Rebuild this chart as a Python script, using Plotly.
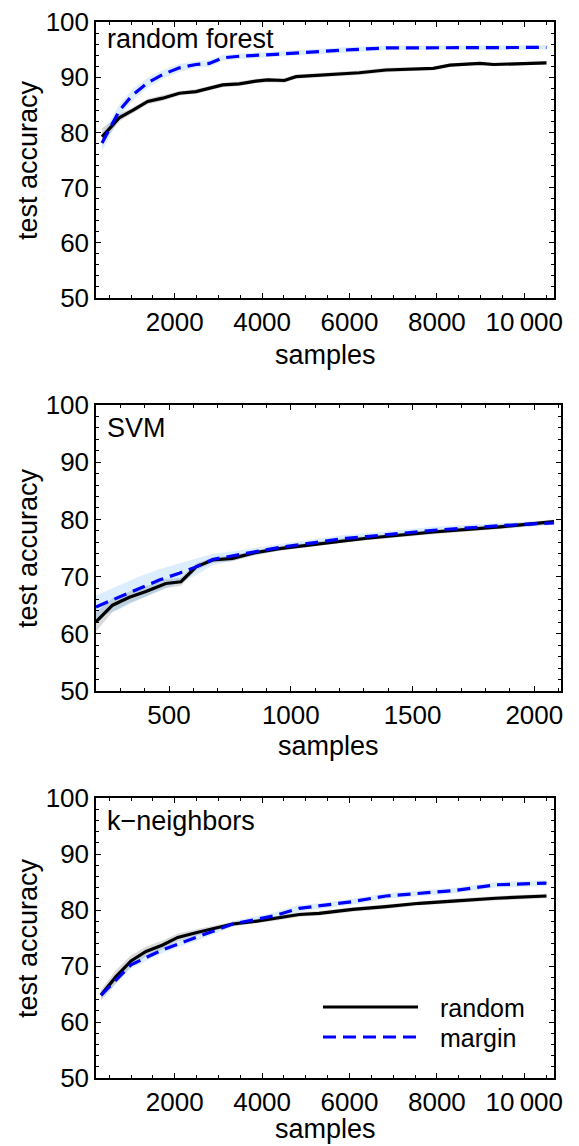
import plotly.graph_objects as go

# ---------------- data ----------------
panel_names = ["random forest", "SVM", "k\u2212neighbors"]
series_names = ["random", "margin"]

# random forest
rf_random_x = [336, 510, 739, 1038, 1382, 1725, 2107, 2487, 2792, 3098, 3479, 3860, 4128, 4508,
               4776, 5310, 5767, 6225, 6835, 7918, 8300, 8986, 9297, 9800, 10508]
rf_random_y = [79.2, 80.7, 82.7, 84.0, 85.6, 86.2, 87.1, 87.4, 88.0, 88.6, 88.8, 89.3, 89.5, 89.4,
               90.1, 90.4, 90.6, 90.8, 91.3, 91.6, 92.2, 92.5, 92.3, 92.4, 92.6]
rf_random_err = [1.6, 1.0, 0.7, 0.5, 0.5, 0.5, 0.4, 0.4, 0.4, 0.4, 0.4, 0.4, 0.4, 0.4,
                 0.4, 0.4, 0.4, 0.4, 0.4, 0.3, 0.3, 0.3, 0.3, 0.3, 0.3]
rf_margin_x = [336, 542, 739, 1038, 1382, 1725, 2107, 2487, 2792, 3098, 3479, 4200, 4930, 6073,
               6835, 7537, 8300, 9297, 10508]
rf_margin_y = [78.1, 81.0, 84.0, 86.8, 89.0, 90.5, 91.7, 92.3, 92.5, 93.5, 93.8, 94.1, 94.5, 95.0,
               95.3, 95.3, 95.4, 95.3, 95.4]
rf_margin_err = [1.5, 1.3, 1.1, 1.0, 0.9, 0.8, 0.7, 0.6, 0.6, 0.5, 0.5, 0.5, 0.5, 0.5,
                 0.4, 0.4, 0.4, 0.4, 0.4]

# SVM
svm_random_x = [200, 268, 337, 405, 487, 549, 611, 679, 761, 844, 953, 1090, 1227, 1312, 1585, 1860, 2081]
svm_random_y = [62.1, 65.0, 66.4, 67.4, 68.8, 69.1, 71.7, 72.9, 73.2, 74.1, 74.9, 75.6, 76.4, 76.7,
                77.8, 78.7, 79.6]
svm_random_err = [1.7, 1.2, 1.0, 0.9, 0.8, 0.7, 0.6, 0.5, 0.5, 0.4, 0.4, 0.4, 0.4, 0.4, 0.4, 0.4, 0.4]
svm_margin_x = [200, 295, 378, 460, 542, 611, 679, 761, 844, 953, 1090, 1227, 1312, 1585, 1860, 2081]
svm_margin_y = [64.7, 66.4, 68.0, 69.4, 70.6, 71.7, 73.0, 73.6, 74.3, 75.1, 75.9, 76.7, 77.0, 78.1,
                78.9, 79.4]
svm_margin_err = [2.0, 2.1, 2.0, 1.9, 1.7, 1.4, 1.0, 0.8, 0.7, 0.6, 0.6, 0.6, 0.6, 0.6, 0.5, 0.4]

# k-neighbors
knn_x = [314, 657, 1000, 1343, 1725, 2069, 2487, 2869, 3327, 3785, 4243, 4851, 5309, 6073,
         6835, 7597, 8361, 9352, 10508]
knn_random_y = [64.8, 68.1, 70.9, 72.6, 73.75, 75.1, 75.95, 76.7, 77.5, 77.9, 78.4, 79.2, 79.4, 80.1,
                80.6, 81.2, 81.6, 82.1, 82.5]
knn_random_err = [1.0, 1.2, 1.0, 0.9, 0.8, 0.7, 0.6, 0.5, 0.4, 0.4, 0.4, 0.4, 0.4, 0.4,
                  0.4, 0.4, 0.4, 0.4, 0.4]
knn_margin_y = [64.8, 67.5, 70.2, 71.5, 72.9, 73.9, 75.05, 76.1, 77.5, 78.2, 78.9, 80.3, 80.7, 81.5,
                82.5, 83.0, 83.45, 84.5, 84.8]
knn_margin_err = [0.6, 0.6, 0.6, 0.6, 0.6, 0.6, 0.5, 0.5, 0.5, 0.5, 0.6, 0.6, 0.5, 0.5,
                  0.5, 0.5, 0.5, 0.5, 0.5]

big_ticks = [2000, 4000, 6000, 8000, 10000]
big_tick_text = ["2000", "4000", "6000", "8000", "10\u2009000"]
svm_ticks = [500, 1000, 1500, 2000]
y_ticks = [50, 60, 70, 80, 90, 100]

# ---------------- figure ----------------
OFF = 8                      # page body margin offset
W, H = 579 - OFF, 1146 - OFF
FONT = "Liberation Sans, Arial, Helvetica, sans-serif"
BLUE = "#0000ff"
GRAY_BAND = "rgba(0,0,0,0.14)"
BLUE_BAND = "rgba(40,140,240,0.16)"


def px(x):
    return (x - OFF) / W


def py(y):
    return 1 - (y - OFF) / H


fig = go.Figure()

panels = [
    dict(xr=rf_random_x, yr=rf_random_y, er=rf_random_err,
         xm=rf_margin_x, ym=rf_margin_y, em=rf_margin_err),
    dict(xr=svm_random_x, yr=svm_random_y, er=svm_random_err,
         xm=svm_margin_x, ym=svm_margin_y, em=svm_margin_err),
    dict(xr=knn_x, yr=knn_random_y, er=knn_random_err,
         xm=knn_x, ym=knn_margin_y, em=knn_margin_err),
]


def band(x, y, e, color, xa, ya):
    up = [a + b for a, b in zip(y, e)]
    lo = [a - b for a, b in zip(y, e)]
    return go.Scatter(x=list(x) + list(x)[::-1], y=up + lo[::-1], fill="toself",
                      fillcolor=color, line=dict(width=0), mode="lines",
                      hoverinfo="skip", showlegend=False, xaxis=xa, yaxis=ya)


for i, p in enumerate(panels):
    xa = "x" if i == 0 else f"x{i+1}"
    ya = "y" if i == 0 else f"y{i+1}"
    fig.add_trace(band(p["xr"], p["yr"], p["er"], GRAY_BAND, xa, ya))
    fig.add_trace(band(p["xm"], p["ym"], p["em"], BLUE_BAND, xa, ya))
    fig.add_trace(go.Scatter(x=p["xr"], y=p["yr"], mode="lines", name=series_names[0],
                             line=dict(color="black", width=3.2), showlegend=False,
                             xaxis=xa, yaxis=ya))
    fig.add_trace(go.Scatter(x=p["xm"], y=p["ym"], mode="lines", name=series_names[1],
                             line=dict(color=BLUE, width=3.2, dash="13px,7px"), showlegend=False,
                             xaxis=xa, yaxis=ya))

# panel geometry (screen pixels)
boxes = [
    dict(l=96, r=554, t=22, b=298, xrange=[199, 10680], ticks=big_ticks, text=big_tick_text,
         minor=500, title_y=355, label_y=39),
    dict(l=96, r=560.6, t=405, b=691, xrange=[200, 2108], ticks=svm_ticks,
         text=[str(v) for v in svm_ticks], minor=100, title_y=746, label_y=428),
    dict(l=96, r=554, t=798, b=1078, xrange=[199, 10680], ticks=big_ticks, text=big_tick_text,
         minor=500, title_y=1129, label_y=821),
]

axis_common = dict(showline=True, linecolor="black", linewidth=1.5, mirror="ticks",
                   ticks="inside", ticklen=5, tickwidth=1, tickcolor="black",
                   showgrid=False, zeroline=False, automargin=False,
                   ticklabeloverflow="allow",
                   tickfont=dict(family=FONT, size=26, color="black"))

layout = dict(template="none", width=W, height=H, margin=dict(l=0, r=0, t=0, b=0, pad=0),
              paper_bgcolor="white", plot_bgcolor="white", showlegend=False)

annotations = []
for i, bx in enumerate(boxes):
    xk = "xaxis" if i == 0 else f"xaxis{i+1}"
    yk = "yaxis" if i == 0 else f"yaxis{i+1}"
    xanchor = "y" if i == 0 else f"y{i+1}"
    yanchor = "x" if i == 0 else f"x{i+1}"
    layout[xk] = dict(axis_common, domain=[px(bx["l"]), px(bx["r"])], range=bx["xrange"],
                      anchor=xanchor, tickmode="array", tickvals=bx["ticks"], ticktext=bx["text"],
                      minor=dict(ticks="inside", ticklen=3, dtick=bx["minor"], tick0=0,
                                 tickcolor="black", tickwidth=1, showgrid=False))
    layout[yk] = dict(axis_common, domain=[py(bx["b"]), py(bx["t"])], range=[50, 100],
                      anchor=yanchor, tickmode="array", tickvals=y_ticks,
                      minor=dict(ticks="inside", ticklen=3, dtick=2, tick0=0,
                                 tickcolor="black", tickwidth=1, showgrid=False))
    # panel label
    annotations.append(dict(text=panel_names[i], xref="paper", yref="paper",
                            x=px(bx["l"] + 9), y=py(bx["label_y"]),
                            xanchor="left", yanchor="middle", showarrow=False,
                            font=dict(family=FONT, size=27, color="black")))
    # x title
    annotations.append(dict(text="samples", xref="paper", yref="paper",
                            x=px((bx["l"] + bx["r"]) / 2), y=py(bx["title_y"]),
                            xanchor="center", yanchor="middle", showarrow=False,
                            font=dict(family=FONT, size=27, color="black")))
    # y title
    annotations.append(dict(text="test accuracy", xref="paper", yref="paper",
                            x=px(28), y=py((bx["t"] + bx["b"]) / 2), textangle=-90,
                            xanchor="center", yanchor="middle", showarrow=False,
                            font=dict(family=FONT, size=27, color="black")))

# legend (panel 3)
leg_rows = [(1007, "black", "solid", series_names[0]), (1037, BLUE, "13px,7px", series_names[1])]
shapes = []
for yy, col, dash, name in leg_rows:
    shapes.append(dict(type="line", xref="paper", yref="paper",
                       x0=px(323), x1=px(418), y0=py(yy), y1=py(yy),
                       line=dict(color=col, width=3.2, dash=dash)))
    annotations.append(dict(text=name, xref="paper", yref="paper", x=px(438), y=py(yy + 1),
                            xanchor="left", yanchor="middle", showarrow=False,
                            font=dict(family=FONT, size=25, color="black")))

layout["annotations"] = annotations
layout["shapes"] = shapes
fig.update_layout(**layout)

fig.write_html("out.html")
